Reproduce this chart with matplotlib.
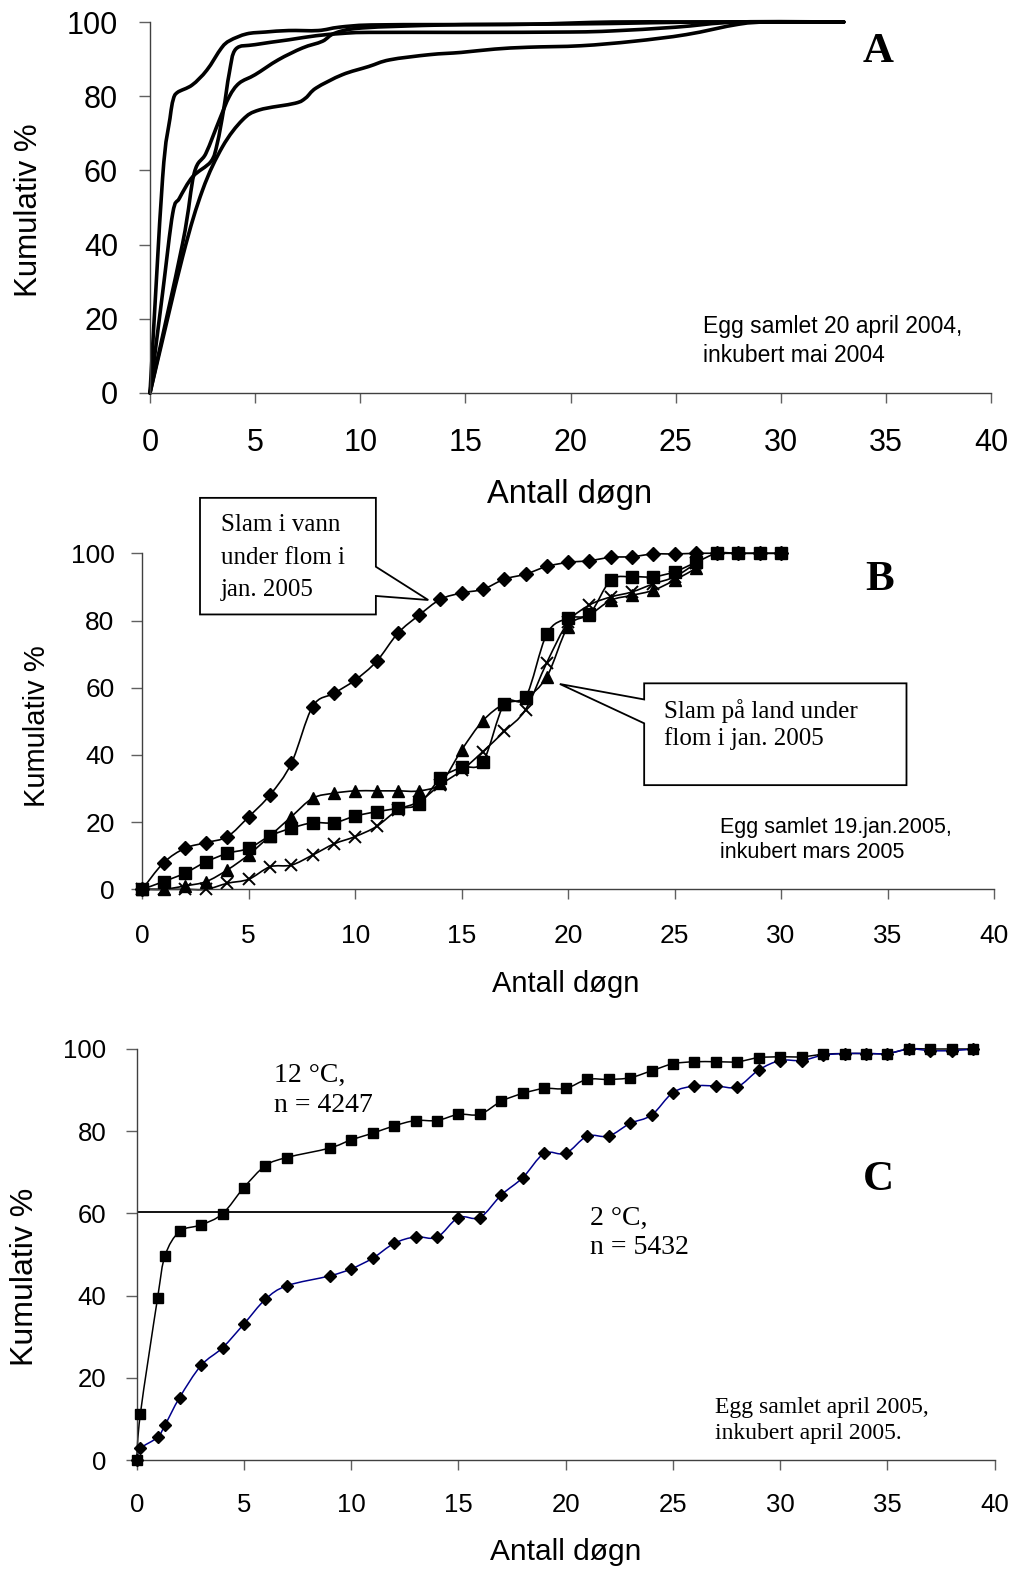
import numpy as np
import matplotlib
matplotlib.use("Agg")
import matplotlib.pyplot as plt
from matplotlib.path import Path
from matplotlib.patches import PathPatch, Polygon

W, H = 1016, 1570
SANS = "Liberation Sans"
SERIF = "Liberation Serif"

# ---- panel A: four cumulative curves (no markers)
a1_days = [0, 0.6, 0.95, 1.1, 1.3, 2.0, 2.7, 3.4, 3.8, 4.6, 5.5, 6.6, 8.0, 9.0, 10.5, 14, 18, 22, 26, 30, 33]
a1_vals = [0, 58, 74, 79, 81, 83, 87, 93, 95, 96.8, 97.3, 97.7, 97.7, 98.6, 99.2, 99.3, 99.4, 99.6, 100, 100, 100]
a2_days = [0, 0.6, 1.08, 1.4, 2.03, 2.9, 3.2, 3.5, 3.77, 4.08, 5.0, 6.6, 7.9, 9.1, 10.4, 15, 20, 22, 25, 28, 33]
a2_vals = [0, 27, 48.4, 52.5, 58.3, 62.4, 67.3, 76.3, 86.2, 92.7, 93.9, 95.2, 96.3, 96.9, 97.2, 97.2, 97.3, 97.6, 98.6, 100, 100]
a3_days = [0, 1.55, 2.1, 2.66, 3.3, 3.77, 4.24, 5.0, 6.1, 7.25, 8.2, 8.8, 10.1, 14, 18, 22, 26, 33]
a3_vals = [0, 40.3, 59.2, 64.6, 73.6, 79.9, 83.5, 85.8, 89.8, 93, 94.8, 97, 98.4, 99.2, 99.4, 100, 100, 100]
a4_days = [0, 1.55, 2.5, 3.45, 4.4, 5.2, 6.9, 7.4, 7.9, 9.15, 10.4, 11.4, 13.3, 14.8, 16.4, 18, 20.5, 23, 25.5, 28, 29.5, 33]
a4_vals = [0, 36.7, 54.7, 66.4, 73.6, 76.3, 78.1, 79.5, 82.2, 85.8, 88, 89.8, 91.2, 91.8, 92.7, 93.2, 93.6, 94.8, 96.6, 99.4, 100, 100]

# ---- panel B: four series, days 0..30
b_days = list(range(31))
b_vann = [0, 7.9, 12.2, 13.9, 15.7, 21.6, 28.1, 37.5, 54.4, 58.3, 62.3, 67.8, 76.2, 81.6, 86.3, 88.2,
          89.3, 92.3, 93.8, 96.1, 97.3, 97.8, 98.8, 99.0, 99.8, 99.8, 100, 100, 100, 100, 100]
b_square = [0, 2.3, 4.8, 8.2, 10.7, 12.2, 15.9, 18.2, 19.8, 19.8, 21.8, 23.1, 24.1, 25.4, 33, 36.3,
            38, 55.2, 57.1, 76, 80.7, 82, 92, 93, 93, 94.5, 97.3, 100, 100, 100, 100]
b_days_short = list(range(27))
b_triangle = [0, 0, 1, 2.3, 5.8, 10.3, 15.9, 21.6, 27.1, 28.6, 29.3, 29.3, 29.3, 29.3, 31.5, 41.5,
              50.2, 55.2, 56.9, 63.3, 78.2, 81.6, 86, 87.5, 89, 92, 95.5]
b_cross = [0, 0, 0, 0, 1.8, 3, 6.7, 7.2, 10.2, 13.5, 15.7, 18.7, 23.6, 26.1, 31.1, 35.4,
           41, 47, 53.5, 67.5, 79.5, 84.6, 87, 88.5, 90.9, 93, 97]

# ---- panel C: 12 C and 2 C
c_days = [0, 0.17, 0.97, 1.32, 2, 3, 4, 5, 6, 7] + list(range(9, 40))
c_12 = [0, 11.2, 39.3, 49.7, 55.6, 57.2, 59.9, 66.3, 71.6, 73.6,
        75.9, 77.9, 79.5, 81.3, 82.6, 82.6, 84.1, 84.1, 87.3, 89.2, 90.4, 90.4, 92.6, 92.6, 93.0,
        94.7, 96.4, 96.9, 96.9, 96.9, 97.9, 98.1, 98.1, 98.7, 98.9, 98.9, 98.9, 100, 100, 100, 100]
c_2 = [0, 2.8, 5.5, 8.5, 15.2, 23, 27.3, 33.1, 39.1, 42.4,
       44.8, 46.5, 49.1, 52.7, 54.3, 54.2, 59, 59, 64.5, 68.7, 74.6, 74.6, 78.8, 78.8, 81.9,
       83.9, 89.4, 91, 91, 90.8, 94.9, 97.2, 97.2, 98.5, 98.9, 98.9, 98.9, 100, 99.6, 99.6, 100]
c_ref_line = [[0, 16.2], [60.4, 60.4]]

x_ticks = list(range(0, 45, 5))
y_ticks = list(range(0, 120, 20))


def smooth(ax, x, y, color="black", lw=1.2, z=2):
    # Catmull-Rom style smoothing drawn as cubic bezier path (like Excel smoothed lines)
    pts = np.column_stack([x, y]).astype(float)
    n = len(pts)
    verts = [pts[0]]
    codes = [Path.MOVETO]
    for i in range(n - 1):
        p0 = pts[i - 1] if i > 0 else pts[i]
        p1 = pts[i]
        p2 = pts[i + 1]
        p3 = pts[i + 2] if i + 2 < n else pts[i + 1]
        verts += [p1 + (p2 - p0) / 6, p2 - (p3 - p1) / 6, p2]
        codes += [Path.CURVE4] * 3
    ax.add_patch(PathPatch(Path(verts, codes), fill=False, ec=color, lw=lw,
                           zorder=z, clip_on=False, capstyle="round", joinstyle="round"))


def make_axes(left, right, top, bottom, tick_size, xpad, ypad):
    ax = fig.add_axes([left / W, 1 - bottom / H, (right - left) / W, (bottom - top) / H])
    ax.set_xlim(0, 40)
    ax.set_ylim(0, 100)
    ax.set_xticks(x_ticks)
    ax.set_yticks(y_ticks)
    for s in ["top", "right"]:
        ax.spines[s].set_visible(False)
    for s in ["left", "bottom"]:
        ax.spines[s].set_color("#404040")
        ax.spines[s].set_linewidth(1.0)
    ax.tick_params(axis="x", direction="out", length=7, width=1, color="#606060",
                   labelsize=tick_size, pad=xpad)
    ax.tick_params(axis="y", direction="out", length=8, width=1, color="#606060",
                   labelsize=tick_size, pad=ypad)
    for lab in ax.get_xticklabels() + ax.get_yticklabels():
        lab.set_fontfamily(SANS)
    return ax


def ftext(px, py, s, **kw):
    fig.text(px / W, 1 - py / H, s, **kw)


fig = plt.figure(figsize=(W / 100, H / 100), dpi=100)

# ---------------- A
axA = make_axes(150, 991, 22, 393, 22, 18.5, 15)
for d, v in [(a1_days, a1_vals), (a2_days, a2_vals), (a3_days, a3_vals), (a4_days, a4_vals)]:
    smooth(axA, d, v, lw=2.6)
ftext(878, 52, "A", family=SERIF, weight="bold", fontsize=31, ha="center", va="center")
ftext(703, 326, "Egg samlet 20 april 2004,", family=SANS, fontsize=16.5, ha="left", va="center")
ftext(703, 355, "inkubert mai 2004", family=SANS, fontsize=16.5, ha="left", va="center")
ftext(29, 210, "Kumulativ %", family=SANS, fontsize=22.5, rotation=90, ha="center", va="center")
ftext(570, 495, "Antall døgn", family=SANS, fontsize=23.5, ha="center", va="center")

# ---------------- B
axB = make_axes(142.3, 994, 553.3, 889.3, 19, 18, 12)
smooth(axB, b_days, b_vann)
smooth(axB, b_days, b_square)
smooth(axB, b_days_short, b_triangle)
smooth(axB, b_days_short, b_cross)
mk = dict(ls="none", color="black", clip_on=False, zorder=3)
axB.plot(b_days, b_vann, marker="D", ms=7, **mk)
axB.plot(b_days, b_square, marker="s", ms=8, **mk)
axB.plot(b_days_short, b_triangle, marker="^", ms=9, **mk)
axB.plot(b_days_short, b_cross, marker="x", ms=9, mew=1.4, **mk)

call1 = [(2.71, 116.5), (10.97, 116.5), (10.97, 96.0), (13.43, 86.1), (10.97, 87.3),
         (10.97, 81.8), (2.71, 81.8)]
call2 = [(23.57, 61.3), (35.89, 61.3), (35.89, 31.0), (23.57, 31.0), (23.57, 49.4),
         (19.61, 61.1), (23.57, 56.5)]
for poly in [call1, call2]:
    axB.add_patch(Polygon(poly, closed=True, fc="white", ec="black", lw=1.3,
                          clip_on=False, zorder=5))
for i, line in enumerate(["Slam i vann", "under flom i", "jan. 2005"]):
    ftext(221, 525 + 32.5 * i, line, family=SERIF, fontsize=18, ha="left", va="center", zorder=6)
for i, line in enumerate(["Slam på land under", "flom i jan. 2005"]):
    ftext(664, 711 + 28 * i, line, family=SERIF, fontsize=18, ha="left", va="center", zorder=6)
ftext(880, 580, "B", family=SERIF, weight="bold", fontsize=31, ha="center", va="center")
ftext(720, 828, "Egg samlet 19.jan.2005,", family=SANS, fontsize=15.5, ha="left", va="center")
ftext(720, 852, "inkubert mars 2005", family=SANS, fontsize=15.5, ha="left", va="center")
ftext(37, 726, "Kumulativ %", family=SANS, fontsize=21, rotation=90, ha="center", va="center")
ftext(566, 984, "Antall døgn", family=SANS, fontsize=21, ha="center", va="center")

# ---------------- C
axC = make_axes(136.7, 994.7, 1049, 1460, 18.5, 17, 14)
axC.plot(c_ref_line[0], c_ref_line[1], color="black", lw=1.3, zorder=2)
smooth(axC, c_days, c_12, color="black", lw=1.1)
smooth(axC, c_days, c_2, color="#00008B", lw=1.1)
axC.plot(c_days, c_12, marker="s", ms=7.5, **mk)
axC.plot(c_days, c_2, marker="D", ms=6.5, **mk)
ftext(274, 1075, "12 °C,", family=SERIF, fontsize=20, ha="left", va="center")
ftext(274, 1105, "n = 4247", family=SERIF, fontsize=20, ha="left", va="center")
ftext(590, 1218, "2 °C,", family=SERIF, fontsize=20, ha="left", va="center")
ftext(590, 1248, "n = 5432", family=SERIF, fontsize=20, ha="left", va="center")
ftext(878, 1180, "C", family=SERIF, weight="bold", fontsize=31, ha="center", va="center")
ftext(715, 1407, "Egg samlet april 2005,", family=SERIF, fontsize=17, ha="left", va="center")
ftext(715, 1434, "inkubert april 2005.", family=SERIF, fontsize=17, ha="left", va="center")
ftext(25, 1277, "Kumulativ %", family=SANS, fontsize=23, rotation=90, ha="center", va="center")
ftext(566, 1552, "Antall døgn", family=SANS, fontsize=21.5, ha="center", va="center")

fig.savefig("out.png", dpi=100)
